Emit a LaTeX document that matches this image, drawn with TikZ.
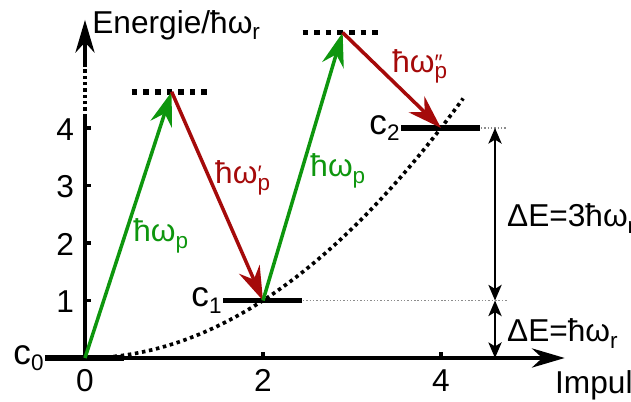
\documentclass[tikz,border=0pt]{standalone}
\usepackage{fontspec}
\setmainfont{Liberation Sans}
\usetikzlibrary{arrows.meta,positioning,calc}
\definecolor{pump}{HTML}{0E960E}
\definecolor{stokes}{HTML}{A50A0A}
\definecolor{guide}{HTML}{8C8C8C}
\tikzset{
  every node/.style={font=\fontsize{22.5}{27}\selectfont,inner sep=0pt},
  axis/.style={line width=2.5pt},
  axistip/.style={-{Stealth[length=8.2mm,width=4.8mm,inset=2.6mm]}},
  levelbar/.style={rectangle,fill=black,minimum width=1.975cm,minimum height=4pt},
  levellabel/.style={font=\fontsize{25}{30}\selectfont},
  virtual/.style={line width=4pt,dash pattern=on 4pt off 4.27pt},
  parabola/.style={line width=2.6pt,dash pattern=on 2.5pt off 2.6pt},
  pumpflow/.style={-{Stealth[length=8.5mm,width=5.6mm,inset=2.8mm]},line width=2.5pt,color=pump},
  stokesflow/.style={-{Stealth[length=8.5mm,width=5.6mm,inset=2.8mm]},line width=2.5pt,color=stokes},
  gap/.style={{Stealth[length=3.9mm,width=3.3mm,inset=1mm]}-{Stealth[length=3.9mm,width=3.3mm,inset=1mm]},line width=1.5pt},
  guideline/.style={guide,line width=1pt,dash pattern=on 1pt off 1.4pt},
  tickmark/.style={line width=2.2pt},
}
\newcommand{\hw}{ħω}
\newcommand{\sbs}[1]{\raisebox{-4.5pt}{\fontsize{16}{19}\selectfont #1}}
\newcommand{\sbp}[2]{\rlap{\raisebox{1.5pt}{\fontsize{16}{19}\selectfont #2}}\sbs{#1}}

\begin{document}
\begin{tikzpicture}[x=2.225cm,y=1.4375cm]
  \useasboundingbox (-0.955,-0.748) rectangle (6.135,6.226);
  \coordinate (c0) at (0,0);
  \coordinate (c1) at (2,1);
  \coordinate (c2) at (4,4);
  \coordinate (v1) at (0.974,4.63);
  \coordinate (v2) at (2.895,5.66);
  \coordinate (xend) at (5.39,0);
  \coordinate (yend) at (0,5.88);
  \coordinate (guideend) at (4.75,0);
  \coordinate (g0) at (4.607,0);
  \coordinate (g1) at (4.607,1);
  \coordinate (g4) at (4.607,4);
  % axes
  \draw[axis] (c0) -- (0,4.19);
  \draw[axis,dash pattern=on 2.5pt off 2pt] (0,4.19) -- (0,5.06);
  \draw[axis,axistip] (0,5.06) -- (yend);
  \draw[axis,axistip] (c0) -- (xend);
  \foreach \k in {1,...,4} {
    \draw[tickmark] (0,\k) -- ++(0.15cm,0);
    \node[anchor=east,yshift=-1pt] (ylab\k) at (-0.12,\k) {\k};
  }
  \foreach \k in {2,4}
    \draw[tickmark] (\k,0) -- ++(0,0.15cm);
  \foreach \k in {0,2,4}
    \node[anchor=north] (xlab\k) at (\k,-0.2) {\k};
  \node[anchor=base west] (ylabel) at (0.08,5.65) {Energie/\hw\sbs{r}};
  \node[anchor=base west] (xlabel) at (5.28,-0.61) {Impuls};
  % levels
  \node[levelbar] (c0bar) at (c0) {};
  \node[levelbar] (c1bar) at (c1) {};
  \node[levelbar] (c2bar) at (c2) {};
  \node[levellabel,left=1pt of c0bar] (c0lab) {c\sbs{0}};
  \node[levellabel,left=1pt of c1bar] (c1lab) {c\sbs{1}};
  \node[levellabel,left=1pt of c2bar] (c2lab) {c\sbs{2}};
  \draw[parabola] plot[domain=0:4.25,samples=60] (\x,{\x*\x/4});
  \draw[virtual] ($(v1)+(-0.45,0)$) -- ($(v1)+(0.40,0)$);
  \draw[virtual] ($(v2)+(-0.45,0)$) -- ($(v2)+(0.41,0)$);
  % transitions
  \draw[pumpflow] (c0) -- (v1);
  \draw[stokesflow] (v1) -- (c1);
  \draw[pumpflow] (c1) -- (v2);
  \draw[stokesflow] (v2) -- (c2);
  \node[anchor=base west,text=pump] (pumplab1) at (0.54,2.02) {\hw\sbs{p}};
  \node[anchor=base west,text=stokes] (stokeslab1) at (1.46,3.03) {\hw\sbp{p}{′}};
  \node[anchor=base west,text=pump] (pumplab2) at (2.53,3.15) {\hw\sbs{p}};
  \node[anchor=base west,text=stokes] (stokeslab2) at (3.45,4.97) {\hw\sbp{p}{″}};
  % energy gaps
  \draw[guideline] (c1bar.east) -- (c1bar.east -| guideend);
  \draw[guideline] (c2bar.east) -- (c2bar.east -| guideend);
  \draw[gap] (g4) -- (g1);
  \draw[gap] (g1) -- (g0);
  \node[anchor=base west] (gaplab3) at (4.74,2.28) {ΔE=3\hw\sbs{r}};
  \node[anchor=base west] (gaplab1) at (4.74,0.28) {ΔE=\hw\sbs{r}};
\end{tikzpicture}
\end{document}
